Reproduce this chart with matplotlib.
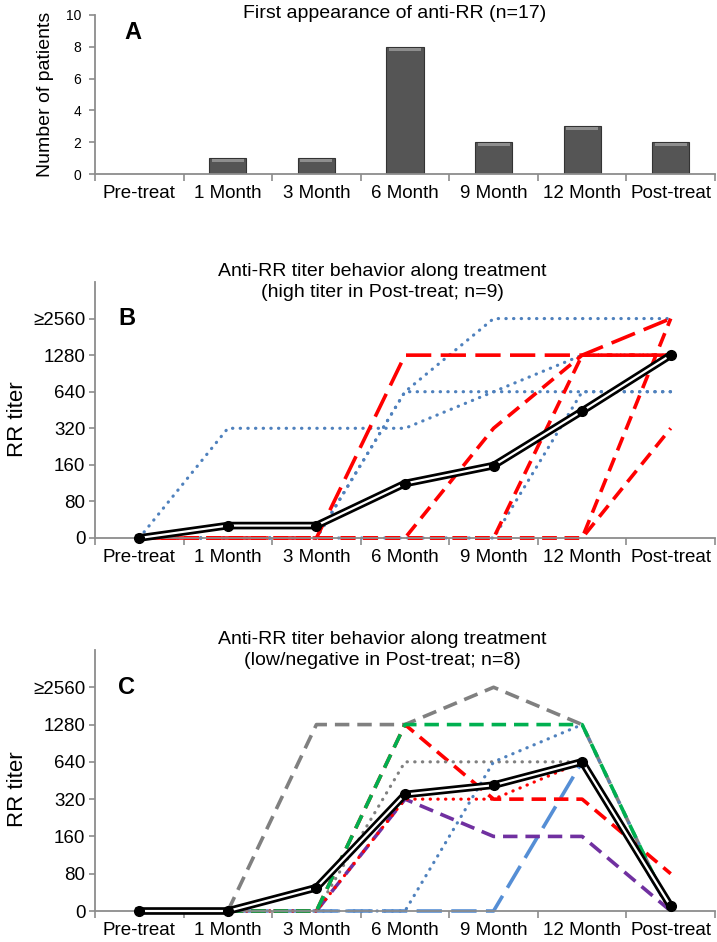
import numpy as np
import matplotlib
matplotlib.use('Agg')
from matplotlib import pyplot as plt

plt.rcParams['font.family'] = ['Liberation Sans', 'DejaVu Sans']

# categories and values
months = ['Pre-treat', '1 Month', '3 Month', '6 Month', '9 Month', '12 Month', 'Post-treat']
first_appearance = [0, 1, 1, 8, 2, 3, 2]
titer_labels = ['0', '80', '160', '320', '640', '1280', '\u22652560']

# panel B, titer given as index into titer_labels
b_blue_1 = [0, 3, 3, 3, 4, 5, 5]
b_blue_2 = [0, 0, 0, 4, 6, 6, 6]
b_blue_3 = [0, 0, 0, 4, 4, 4, 4]
b_blue_4 = [0, 0, 0, 0, 0, 4, 4]
b_red_1 = [0, 0, 0, 5, 5, 5, 6]
b_red_2 = [0, 0, 0, 0, 3, 5, 5]
b_red_3 = [0, 0, 0, 0, 0, 5, 5]
b_red_4 = [0, 0, 0, 0, 0, 0, 6]
b_red_5 = [0, 0, 0, 0, 0, 0, 3]
b_mean = [0, 0.34, 0.34, 1.49, 1.98, 3.47, 5.0]

# panel C
c_gray_dash = [0, 0, 5, 5, 6, 5, 0]
c_green = [0, 0, 0, 5, 5, 5, 0]
c_red_dash = [0, 0, 0, 5, 3, 3, 1]
c_red_dot = [0, 0, 0, 3, 3, 4, 0]
c_purple = [0, 0, 0, 3, 2, 2, 0]
c_gray_dot = [0, 0, 0, 4, 4, 4, 0]
c_blue_dot = [0, 0, 0, 0, 4, 5, 0]
c_blue_dash = [0, 0, 0, 0, 0, 4, 0]
c_mean = [0, 0, 0.625, 3.125, 3.375, 4.0, 0.125]

W, H = 717, 942
AXIS_GRAY = '#8c8c8c'
BLUE = '#4f81bd'
RED = '#ff0000'


def px_rect(left, top, right, bottom):
    return [left / W, 1 - bottom / H, (right - left) / W, (bottom - top) / H]


def style_axes(ax):
    x = np.arange(len(months))
    ax.set_xlim(-0.5, len(months) - 0.5)
    for side in ('top', 'right'):
        ax.spines[side].set_visible(False)
    for side in ('left', 'bottom'):
        ax.spines[side].set_color(AXIS_GRAY)
        ax.spines[side].set_linewidth(1.3)
    ax.set_xticks(np.arange(-0.5, len(months), 1))
    ax.set_xticklabels([])
    ax.set_xticks(x, months, minor=True)
    ax.tick_params(axis='x', which='major', length=5, color=AXIS_GRAY, width=1.2)
    ax.tick_params(axis='x', which='minor', length=0, labelsize=13.5, pad=8)
    ax.tick_params(axis='y', length=4, color=AXIS_GRAY, width=1.2, pad=3)


fig = plt.figure(figsize=(W / 100, H / 100), dpi=100)

# ---- A: bar chart
ax_a = fig.add_axes(px_rect(95, 15, 715, 174))
style_axes(ax_a)
xa = np.arange(len(months))
ax_a.bar(xa, first_appearance, width=0.42,
         color='#555555', edgecolor='#333333', linewidth=0.8)
# lighter bevel at the top of each non-empty bar
vals = np.array(first_appearance, dtype=float)
has = vals > 0
ax_a.bar(xa[has], 0.2, bottom=vals[has] - 0.25, width=0.36,
         color='#8e8e8e', linewidth=0)
ax_a.set_ylim(0, 10)
ax_a.set_yticks(range(0, 11, 2))
ax_a.tick_params(axis='y', labelsize=10, pad=6)
ax_a.set_ylabel('Number of patients', fontsize=14)
ax_a.yaxis.set_label_coords(-0.066, 0.5)
ax_a.text(0.048, 0.89, 'A', transform=ax_a.transAxes, fontsize=17, fontweight='bold',
          va='center', ha='left')
fig.text(395 / W, 1 - 14 / H, 'First appearance of anti-RR (n=17)', fontsize=14,
         ha='center', va='center')


def draw_mean(ax, values):
    x = np.arange(len(months))
    ax.plot(x, values, color='black', lw=5.5, zorder=10, clip_on=False)
    ax.plot(x, values, color='white', lw=1.6, zorder=11, clip_on=False)
    ax.plot(x, values, ls='none', marker='o', ms=7, color='black', zorder=12, clip_on=False)


def titer_axes(ax, letter, title):
    style_axes(ax)
    ax.set_ylim(0, 7)
    ax.set_yticks(range(len(titer_labels)), titer_labels)
    ax.tick_params(axis='y', labelsize=13.5)
    ax.set_ylabel('RR titer', fontsize=16)
    ax.yaxis.set_label_coords(-0.108, 0.465)
    ax.text(0.037, 6, letter, transform=ax.get_yaxis_transform(), fontsize=17,
            fontweight='bold', va='center', ha='left')
    ax.text(0.463, 7.0, title, transform=ax.get_yaxis_transform(), fontsize=14,
            ha='center', va='center', linespacing=1.3)


x = np.arange(len(months))
dot = dict(ls=(0, (0.1, 2.3)), dash_capstyle='round', lw=2.3, clip_on=False)
dash = dict(ls=(0, (4, 2.2)), lw=2.6, clip_on=False)
long_dash = dict(ls=(0, (7, 2.6)), lw=2.6, clip_on=False)

# ---- B
ax_b = fig.add_axes(px_rect(95, 282, 715, 538))
titer_axes(ax_b, 'B', 'Anti-RR titer behavior along treatment\n(high titer in Post-treat; n=9)')
for s in (b_blue_1, b_blue_2, b_blue_3, b_blue_4):
    ax_b.plot(x, s, color=BLUE, **dot)
for s in (b_red_2, b_red_3, b_red_4, b_red_5):
    ax_b.plot(x, s, color=RED, **dash)
ax_b.plot(x, b_red_1, color=RED, **long_dash)
draw_mean(ax_b, b_mean)

# ---- C
ax_c = fig.add_axes(px_rect(95, 650, 715, 911))
titer_axes(ax_c, 'C', 'Anti-RR titer behavior along treatment\n(low/negative in Post-treat; n=8)')
ax_c.plot(x, c_blue_dash, color='#558ed5', **long_dash)
ax_c.plot(x, c_gray_dash, color='#808080', **dash)
ax_c.plot(x, c_purple, color='#7030a0', **dash)
ax_c.plot(x, c_red_dash, color=RED, **dash)
ax_c.plot(x, c_gray_dot, color='#808080', **dot)
ax_c.plot(x, c_blue_dot, color=BLUE, **dot)
ax_c.plot(x, c_red_dot, color=RED, **dot)
ax_c.plot(x, c_green, color='#00b050', **dash)
draw_mean(ax_c, c_mean)

fig.savefig('out.png', dpi=100)
